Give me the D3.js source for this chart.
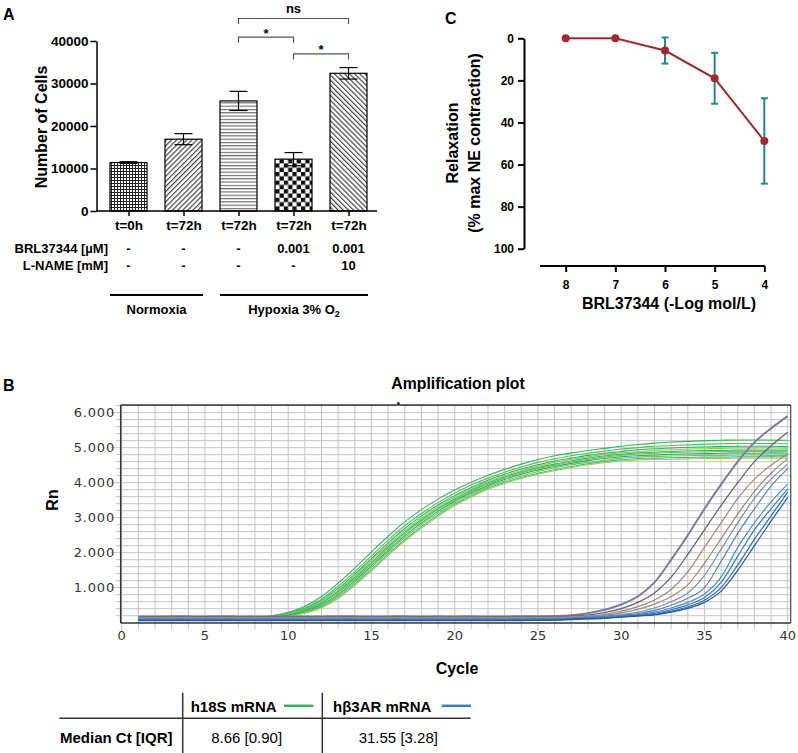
<!DOCTYPE html>
<html><head><meta charset="utf-8">
<script src="https://cdn.jsdelivr.net/npm/d3@7"></script>
<style>
html,body{margin:0;padding:0;background:#fff;}
svg{display:block;font-family:"Liberation Sans",Arial,sans-serif;}
</style></head><body>
<svg id="c" width="798" height="753"></svg>
<script>
// ---------- Panel A data ----------
const barCategories = ["t=0h","t=72h","t=72h","t=72h","t=72h"];
const barValues = [11400,16900,25900,12200,32400];
const barErrors = [200,1300,2250,1550,1350];
const barPatterns = ["pDots","pFwd","pHoriz","pCheck","pBack"];
const yTicksA = [0,10000,20000,30000,40000];
const brlRow = ["-","-","-","0.001","0.001"];
const lnameRow = ["-","-","-","-","10"];
const sigFrom = [2,2,3];
const sigTo = [4,3,4];
const sigLabels = ["ns","*","*"];
const sigLevels = [45300,40900,36950];
const groupLabels = ["Normoxia","Hypoxia 3% O"];
const groupFrom = [0,2];
const groupTo = [1,4];

// ---------- Panel C data ----------
const doses = [8,7,6,5,4];
const relaxMean = [0,0,5.8,19,48.8];
const relaxErr = [null,null,6.2,12.1,20.3];
const yTicksC = [0,20,40,60,80,100];

// ---------- Panel B data ----------
const cycles = [1,2,3,4,5,6,7,8,9,10,11,12,13,14,15,16,17,18,19,20,21,22,23,24,25,26,27,28,29,30,31,32,33,34,35,36,37,38,39,40];
const yTicksB = [1000,2000,3000,4000,5000,6000];
const yTickLabelsB = ["1.000","2.000","3.000","4.000","5.000","6.000"];
const xTicksB = [0,5,10,15,20,25,30,35,40];
const h18sCurves = [
 [130,128,132,129,131,127,130,135,200,300,470,750,1130,1560,2020,2470,2880,3230,3530,3790,4010,4210,4380,4530,4660,4770,4850,4920,4980,5040,5090,5130,5160,5180,5200,5210,5220,5220,5220,5210],
 [120,118,122,121,119,123,120,124,190,280,430,680,1040,1460,1910,2360,2770,3120,3430,3700,3930,4130,4300,4450,4580,4680,4770,4840,4900,4960,5000,5040,5060,5080,5100,5110,5120,5120,5120,5110],
 [110,112,108,111,109,113,110,115,180,260,400,640,980,1390,1830,2280,2690,3050,3360,3630,3860,4070,4240,4390,4510,4620,4700,4780,4840,4890,4940,4970,4990,5010,5020,5030,5040,5040,5040,5030],
 [100,102,98,101,99,103,100,104,180,250,380,600,930,1340,1780,2220,2630,2990,3310,3590,3820,4030,4200,4350,4470,4580,4660,4740,4800,4850,4890,4920,4940,4960,4970,4980,4990,4990,4990,4980],
 [115,117,113,116,114,118,115,119,170,230,360,570,890,1290,1720,2170,2580,2940,3260,3540,3780,3990,4160,4310,4430,4530,4620,4700,4760,4810,4850,4870,4890,4910,4920,4920,4930,4930,4930,4930],
 [105,107,103,106,104,108,105,109,170,230,350,550,860,1250,1690,2130,2540,2900,3230,3510,3750,3960,4130,4280,4400,4500,4590,4670,4730,4780,4820,4840,4860,4870,4880,4890,4900,4890,4900,4890],
 [95,97,93,96,94,98,95,99,160,210,330,510,810,1200,1630,2070,2480,2850,3180,3470,3710,3920,4090,4240,4360,4460,4550,4630,4690,4740,4770,4790,4810,4820,4830,4840,4850,4840,4850,4840],
 [125,123,127,124,126,122,125,121,160,200,310,480,770,1150,1580,2020,2430,2800,3130,3420,3670,3880,4050,4190,4320,4420,4510,4580,4640,4700,4730,4750,4760,4770,4780,4780,4790,4790,4780,4780],
 [90,92,88,91,89,93,90,94,155,190,290,450,730,1100,1520,1960,2370,2740,3080,3380,3620,3840,4010,4150,4270,4370,4460,4540,4600,4650,4690,4700,4710,4720,4730,4730,4740,4740,4740,4740],
 [100,98,102,99,101,97,100,96,150,180,270,420,690,1060,1480,1920,2330,2700,3040,3340,3590,3810,3980,4120,4240,4340,4430,4510,4570,4620,4650,4660,4670,4680,4690,4690,4700,4700,4700,4700]
];
const h18sColors = ["#34b85a","#4fc25a","#2fae6e","#8ccc52","#3cbc4c","#5ec86a","#2aa862","#74c44e","#46b87c","#9ad060"];
const hb3arCurves = [
 [180,178,182,181,179,183,180,178,181,182,179,180,183,181,178,180,182,179,181,180,183,178,180,182,185,192,210,270,370,520,750,1150,1800,2500,3250,3950,4600,5150,5550,5900],
 [165,163,167,166,164,168,165,163,166,167,164,165,168,166,163,165,167,164,166,165,168,163,165,167,170,175,185,220,290,400,580,850,1300,1950,2650,3350,4000,4600,5050,5440],
 [150,148,152,151,149,153,150,148,151,152,149,150,153,151,148,150,152,149,151,150,153,148,150,152,155,158,165,190,240,330,460,650,950,1450,2150,2850,3550,4100,4500,4820],
 [135,133,137,136,134,138,135,133,136,137,134,135,138,136,133,135,137,134,136,135,138,133,135,137,139,142,150,180,210,280,380,530,750,1080,1700,2400,3100,3750,4270,4680],
 [120,118,122,121,119,123,120,118,121,122,119,120,123,121,118,120,122,119,121,120,123,118,120,122,124,126,140,170,190,230,300,420,600,850,1350,2100,2850,3550,4100,4530],
 [110,108,112,111,109,113,110,108,111,112,109,110,113,111,108,110,112,109,111,110,113,108,110,112,114,116,130,150,180,210,260,350,500,700,1000,1750,2550,3250,3900,4400],
 [95,93,97,96,94,98,95,93,96,97,94,95,98,96,93,95,97,94,96,95,98,93,95,97,99,102,120,140,170,200,230,300,420,580,820,1300,2150,2850,3450,3960],
 [82,80,84,83,81,85,82,80,83,84,81,82,85,83,80,82,84,81,83,82,85,80,82,84,86,90,110,130,150,180,210,270,370,510,720,1150,1900,2650,3250,3820],
 [70,68,72,71,69,73,70,68,71,72,69,70,73,71,68,70,72,69,71,70,73,68,70,72,75,80,100,115,135,170,200,240,330,450,640,1000,1650,2380,3050,3730],
 [58,56,60,59,57,61,58,56,59,60,57,58,61,59,56,58,60,57,59,58,61,56,58,60,64,72,90,105,125,160,190,220,300,410,580,900,1500,2200,2900,3580]
];
const hb3arColors = ["#7c7c9e","#5e5e78","#a08a86","#9a8a7a","#7e8eaa","#6482b2","#4a8cc8","#3a7cbc","#2a6cb0","#1e5ca6"];
const tableHeaders = ["h18S mRNA","hβ3AR mRNA"];
const tableRowLabel = "Median Ct [IQR]";
const tableValues = ["8.66 [0.90]","31.55 [3.28]"];
const legendColors = ["#33b35a","#2f80c2"];

const svg = d3.select("#c");
const defs = svg.append("defs");
function pat(id,w,h,tr){
  const p = defs.append("pattern").attr("id",id).attr("patternUnits","userSpaceOnUse").attr("width",w).attr("height",h);
  if(tr) p.attr("patternTransform",tr);
  p.append("rect").attr("width",w).attr("height",h).attr("fill","#fff");
  return p;
}
const p1 = pat("pDots",3,3);
p1.append("rect").attr("width",3).attr("height",1).attr("fill","#222");
p1.append("rect").attr("width",1).attr("height",3).attr("fill","#222");
const p2 = pat("pFwd",3.6,3.6,"rotate(45)");
p2.append("line").attr("x1",0.6).attr("y1",0).attr("x2",0.6).attr("y2",3.6).attr("stroke","#333").attr("stroke-width",1.1);
const p3 = pat("pHoriz",4,3.3);
p3.append("line").attr("x1",0).attr("y1",0.6).attr("x2",4).attr("y2",0.6).attr("stroke","#555").attr("stroke-width",1);
const p4 = pat("pCheck",8.6,8.6);
p4.append("rect").attr("width",4.3).attr("height",4.3).attr("fill","#111");
p4.append("rect").attr("x",4.3).attr("y",4.3).attr("width",4.3).attr("height",4.3).attr("fill","#111");
const p5 = pat("pBack",3.6,3.6,"rotate(-45)");
p5.append("line").attr("x1",0.6).attr("y1",0).attr("x2",0.6).attr("y2",3.6).attr("stroke","#333").attr("stroke-width",1.1);

// ================= PANEL A =================
const gA = svg.append("g");
const idx = barValues.map((d,i)=>i);
const xA = d3.scalePoint().domain(idx).range([128.5,348.5]);
const yA = d3.scaleLinear().domain([0,40000]).range([211,41]);
const bw = 37;
gA.append("text").attr("x",3).attr("y",20).attr("font-weight","bold").attr("font-size",16).text("A");
const ayA = gA.append("g").attr("transform","translate(96.5,0)")
  .call(d3.axisLeft(yA).tickValues(yTicksA).tickSize(6).tickSizeOuter(0).tickPadding(2).tickFormat(d3.format("d")));
ayA.select(".domain").attr("stroke","#000").attr("stroke-width",1.5);
ayA.selectAll(".tick line").attr("stroke","#000").attr("stroke-width",1.5);
ayA.selectAll(".tick text").attr("font-family","Liberation Sans, Arial").attr("font-weight","bold").attr("font-size",13.5).attr("fill","#000");
gA.append("text").attr("transform","translate(46.5,127) rotate(-90)").attr("text-anchor","middle")
  .attr("font-weight","bold").attr("font-size",16).text("Number of Cells");
gA.selectAll("rect.bar").data(barValues).join("rect").attr("class","bar")
  .attr("x",(d,i)=>xA(i)-bw/2).attr("width",bw)
  .attr("y",d=>yA(d)).attr("height",d=>yA(0)-yA(d))
  .attr("fill",(d,i)=>`url(#${barPatterns[i]})`).attr("stroke","#000").attr("stroke-width",1.2);
const eb = gA.selectAll("g.eb").data(barValues).join("g").attr("class","eb");
eb.append("line").attr("x1",(d,i)=>xA(i)).attr("x2",(d,i)=>xA(i))
  .attr("y1",(d,i)=>yA(d-barErrors[i])).attr("y2",(d,i)=>yA(d+barErrors[i])).attr("stroke","#000").attr("stroke-width",1.2);
eb.append("line").attr("x1",(d,i)=>xA(i)-9).attr("x2",(d,i)=>xA(i)+9)
  .attr("y1",(d,i)=>yA(d+barErrors[i])).attr("y2",(d,i)=>yA(d+barErrors[i])).attr("stroke","#000").attr("stroke-width",1.2);
eb.append("line").attr("x1",(d,i)=>xA(i)-9).attr("x2",(d,i)=>xA(i)+9)
  .attr("y1",(d,i)=>yA(d-barErrors[i])).attr("y2",(d,i)=>yA(d-barErrors[i])).attr("stroke","#000").attr("stroke-width",1.2);
gA.append("line").attr("x1",96).attr("x2",377).attr("y1",yA(0)).attr("y2",yA(0)).attr("stroke","#000").attr("stroke-width",1.5);
const axA = gA.append("g").attr("transform",`translate(0,${yA(0)})`)
  .call(d3.axisBottom(xA).tickSize(5).tickPadding(6).tickFormat(i=>barCategories[i]));
axA.select(".domain").remove();
axA.selectAll(".tick line").attr("stroke","#000").attr("stroke-width",1.5);
axA.selectAll(".tick text").attr("font-family","Liberation Sans, Arial").attr("font-weight","bold").attr("font-size",13.5).attr("fill","#000").attr("dy","0.6em");
gA.append("text").attr("x",108).attr("y",252.5).attr("text-anchor","end").attr("font-weight","bold").attr("font-size",13).text("BRL37344 [µM]");
gA.append("text").attr("x",108).attr("y",269.5).attr("text-anchor","end").attr("font-weight","bold").attr("font-size",13).text("L-NAME [mM]");
gA.selectAll("text.brl").data(brlRow).join("text").attr("class","brl").attr("x",(d,i)=>xA(i)).attr("y",252.5)
  .attr("text-anchor","middle").attr("font-weight","bold").attr("font-size",13).text(d=>d);
gA.selectAll("text.ln").data(lnameRow).join("text").attr("class","ln").attr("x",(d,i)=>xA(i)).attr("y",269.5)
  .attr("text-anchor","middle").attr("font-weight","bold").attr("font-size",13).text(d=>d);
sigLabels.forEach((lab,k)=>{
  const x1 = xA(sigFrom[k]), x2 = xA(sigTo[k]), y = yA(sigLevels[k]);
  gA.append("path").attr("d",`M${x1},${y+5.5}V${y}H${x2}V${y+5.5}`).attr("fill","none").attr("stroke","#555").attr("stroke-width",1.2);
  gA.append("text").attr("x",(x1+x2)/2).attr("y", lab==="ns" ? y-5 : y+0.5).attr("text-anchor","middle")
    .attr("font-weight","bold").attr("font-size",13).text(lab);
});
groupLabels.forEach((lab,k)=>{
  const x1 = xA(groupFrom[k])-bw/2, x2 = xA(groupTo[k])+bw/2+1;
  gA.append("line").attr("x1",x1).attr("x2",x2).attr("y1",295).attr("y2",295).attr("stroke","#000").attr("stroke-width",2);
  const t = gA.append("text").attr("x",(x1+x2)/2).attr("y",313.5).attr("text-anchor","middle").attr("font-weight","bold").attr("font-size",13);
  t.append("tspan").text(lab);
  if(k===1) t.append("tspan").attr("dy",3).attr("font-size",9).text("2");
});

// ================= PANEL C =================
const gC = svg.append("g");
const xC = d3.scaleLinear().domain([8,4]).range([565.7,764.3]);
const yC = d3.scaleLinear().domain([0,100]).range([38.3,248.7]);
gC.append("text").attr("x",445).attr("y",24).attr("font-weight","bold").attr("font-size",16).text("C");
const ayC = gC.append("g").attr("transform","translate(524,0)")
  .call(d3.axisLeft(yC).tickValues(yTicksC).tickSize(6).tickSizeOuter(0).tickPadding(4));
ayC.select(".domain").attr("stroke","#000").attr("stroke-width",2);
ayC.selectAll(".tick line").attr("stroke","#000").attr("stroke-width",2);
ayC.selectAll(".tick text").attr("font-family","Liberation Sans, Arial").attr("font-weight","bold").attr("font-size",12).attr("fill","#000");
gC.append("line").attr("x1",540).attr("x2",765).attr("y1",266).attr("y2",266).attr("stroke","#000").attr("stroke-width",2);
const axC = gC.append("g").attr("transform","translate(0,266)")
  .call(d3.axisBottom(xC).tickValues(doses).tickSize(6).tickPadding(8).tickFormat(d3.format("d")));
axC.select(".domain").remove();
axC.selectAll(".tick line").attr("stroke","#000").attr("stroke-width",2);
axC.selectAll(".tick text").attr("font-family","Liberation Sans, Arial").attr("font-weight","bold").attr("font-size",12).attr("fill","#000");
gC.append("text").attr("transform","translate(458,143) rotate(-90)").attr("text-anchor","middle").attr("font-weight","bold").attr("font-size",16).text("Relaxation");
gC.append("text").attr("transform","translate(480,143) rotate(-90)").attr("text-anchor","middle").attr("font-weight","bold").attr("font-size",16).text("(% max NE contraction)");
gC.append("text").attr("x",669).attr("y",309).attr("text-anchor","middle").attr("font-weight","bold").attr("font-size",16).text("BRL37344 (-Log mol/L)");
doses.forEach((d,i)=>{
  if(relaxErr[i]==null) return;
  const x = xC(d), y1 = yC(relaxMean[i]-relaxErr[i]), y2 = yC(relaxMean[i]+relaxErr[i]);
  gC.append("line").attr("x1",x).attr("x2",x).attr("y1",y1).attr("y2",y2).attr("stroke","#23898f").attr("stroke-width",2);
  gC.append("line").attr("x1",x-3.5).attr("x2",x+3.5).attr("y1",y1).attr("y2",y1).attr("stroke","#23898f").attr("stroke-width",2);
  gC.append("line").attr("x1",x-3.5).attr("x2",x+3.5).attr("y1",y2).attr("y2",y2).attr("stroke","#23898f").attr("stroke-width",2);
});
gC.append("path").datum(relaxMean).attr("d",d3.line().x((d,i)=>xC(doses[i])).y(d=>yC(d)))
  .attr("fill","none").attr("stroke","#a3282b").attr("stroke-width",2);
gC.selectAll("circle.pt").data(relaxMean).join("circle").attr("class","pt")
  .attr("cx",(d,i)=>xC(doses[i])).attr("cy",d=>yC(d)).attr("r",4).attr("fill","#a3282b");

// ================= PANEL B =================
const gB = svg.append("g");
const xB = d3.scaleLinear().domain([0,40]).range([121.7,787.7]);
const yB = d3.scaleLinear().domain([0,6210]).range([622.7,405.3]);
const L = 120.7, R = 790.7, T = 405, Bt = 623;
gB.append("text").attr("x",3).attr("y",391).attr("font-weight","bold").attr("font-size",16).text("B");
gB.append("text").attr("x",458).attr("y",389).attr("text-anchor","middle").attr("font-weight","bold").attr("font-size",15.8).text("Amplification plot");
const vgrid = d3.range(0,41);
gB.selectAll("line.vg").data(vgrid).join("line").attr("class","vg")
  .attr("x1",d=>xB(d)).attr("x2",d=>xB(d)).attr("y1",T).attr("y2",d=>d%5===0?Bt+8:Bt+6)
  .attr("stroke","#c4c4c4").attr("stroke-width",1);
const hgrid = d3.range(200,6201,200);
gB.selectAll("line.hg").data(hgrid).join("line").attr("class","hg")
  .attr("x1",d=>d%1000===0?L-10:L-5).attr("x2",R).attr("y1",d=>yB(d)).attr("y2",d=>yB(d))
  .attr("stroke","#c4c4c4").attr("stroke-width",1);
gB.append("line").attr("x1",L).attr("x2",R).attr("y1",T).attr("y2",T).attr("stroke","#333").attr("stroke-width",1.5);
gB.append("line").attr("x1",R).attr("x2",R).attr("y1",T).attr("y2",Bt).attr("stroke","#444").attr("stroke-width",1.2);
gB.append("line").attr("x1",L).attr("x2",L).attr("y1",T).attr("y2",Bt).attr("stroke","#333").attr("stroke-width",1.5);
gB.append("line").attr("x1",L).attr("x2",R).attr("y1",Bt).attr("y2",Bt).attr("stroke","#333").attr("stroke-width",1.5);
gB.append("circle").attr("cx",398.3).attr("cy",403.5).attr("r",1.4).attr("fill","#333");
gB.selectAll("text.yl").data(yTicksB).join("text").attr("class","yl")
  .attr("x",115).attr("y",d=>yB(d)).attr("dy","0.35em").attr("text-anchor","end")
  .attr("font-family","DejaVu Sans, sans-serif").attr("font-size",13).attr("letter-spacing",0.8).attr("fill","#333")
  .text((d,i)=>yTickLabelsB[i]);
gB.selectAll("text.xl").data(xTicksB).join("text").attr("class","xl")
  .attr("x",d=>xB(d)).attr("y",640).attr("text-anchor","middle")
  .attr("font-family","DejaVu Sans, sans-serif").attr("font-size",13).attr("fill","#333").text(d=>d);
gB.append("text").attr("transform","translate(58,500) rotate(-90)").attr("text-anchor","middle").attr("font-weight","bold").attr("font-size",16).text("Rn");
gB.append("text").attr("x",457).attr("y",674).attr("text-anchor","middle").attr("font-weight","bold").attr("font-size",16).text("Cycle");
defs.append("clipPath").attr("id","clipB").append("rect").attr("x",L).attr("y",T).attr("width",R-L).attr("height",Bt-T);
const lineB = d3.line().x((d,i)=>xB(cycles[i])).y(d=>yB(d)).curve(d3.curveMonotoneX);
const cg = gB.append("g").attr("clip-path","url(#clipB)");
cg.selectAll("path.g18").data(h18sCurves).join("path").attr("class","g18")
  .attr("d",lineB).attr("fill","none").attr("stroke",(d,i)=>h18sColors[i]).attr("stroke-width",1.1);
cg.selectAll("path.b3").data(hb3arCurves).join("path").attr("class","b3")
  .attr("d",lineB).attr("fill","none").attr("stroke",(d,i)=>hb3arColors[i]).attr("stroke-width",(d,i)=>i===0?2:1.2);

// ================= TABLE =================
const gT = svg.append("g");
gT.append("line").attr("x1",182.7).attr("x2",182.7).attr("y1",692.7).attr("y2",753).attr("stroke","#333").attr("stroke-width",1.5);
gT.append("line").attr("x1",322.3).attr("x2",322.3).attr("y1",692.7).attr("y2",753).attr("stroke","#333").attr("stroke-width",1.5);
gT.append("line").attr("x1",59.3).attr("x2",470.7).attr("y1",718.3).attr("y2",718.3).attr("stroke","#333").attr("stroke-width",1.5);
const hx = [190.7,333];
const lx = [284,441.7];
tableHeaders.forEach((h,i)=>{
  gT.append("text").attr("x",hx[i]).attr("y",711.5).attr("font-weight","bold").attr("font-size",15).text(h);
  gT.append("line").attr("x1",lx[i]).attr("x2",lx[i]+29.3).attr("y1",705.8).attr("y2",705.8).attr("stroke",legendColors[i]).attr("stroke-width",2.5);
});
gT.append("text").attr("x",60).attr("y",743).attr("font-weight","bold").attr("font-size",15).text(tableRowLabel);
const vx = [246.7,398.3];
tableValues.forEach((v,i)=>{
  gT.append("text").attr("x",vx[i]).attr("y",743).attr("text-anchor","middle").attr("font-size",15).text(v);
});
</script>
</body></html>
